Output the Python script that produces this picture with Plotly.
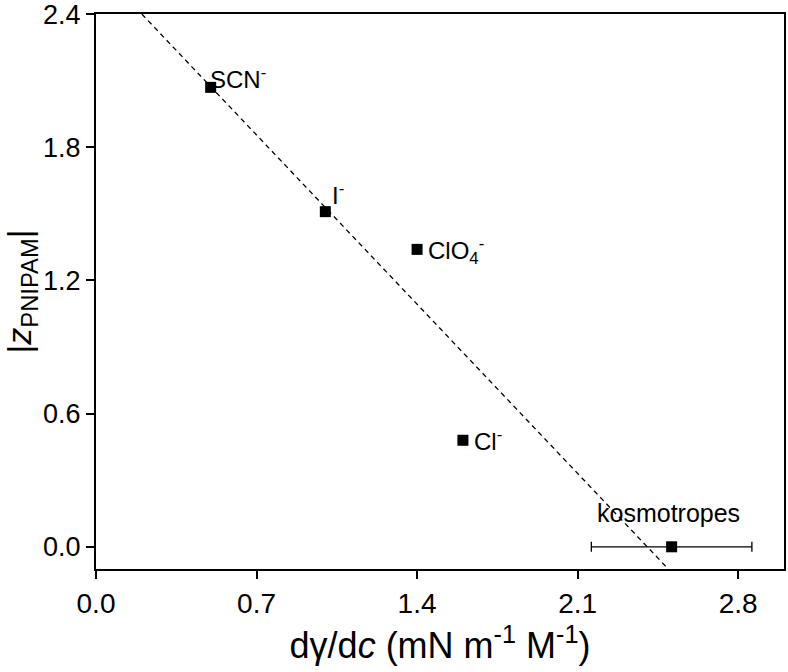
import plotly.graph_objects as go

# Data
ions = ["SCN<sup>-</sup>", "I<sup>-</sup>", "ClO<sub>4</sub><sup>-</sup>", "Cl<sup>-</sup>", "kosmotropes"]
dgamma_dc = [0.50, 1.00, 1.40, 1.60, 2.51]
z_pnipam = [2.07, 1.51, 1.34, 0.48, 0.00]
x_err = [0, 0, 0, 0, 0.35]

# Linear fit line endpoints
fit_x = [0.20, 2.50]
fit_y = [2.40, -0.105]

x_ticks = [0.0, 0.7, 1.4, 2.1, 2.8]
y_ticks = [0.0, 0.6, 1.2, 1.8, 2.4]

# label offsets (pixels) for each annotation
label_dx = [-3, 5, 9, 9, -3]
label_dy = [9, 18, -2, 0, 34]
label_anchor = ["left", "left", "left", "left", "center"]
label_size = [24, 24, 24, 24, 25]

FONT = "Liberation Sans, Arial, sans-serif"

fig = go.Figure()

fig.add_trace(go.Scatter(
    x=fit_x, y=fit_y, mode="lines",
    line=dict(color="black", width=1.3, dash="5px,4px"),
    hoverinfo="skip", showlegend=False,
))

fig.add_trace(go.Scatter(
    x=dgamma_dc, y=z_pnipam, mode="markers",
    marker=dict(symbol="square", size=11, color="black"),
    error_x=dict(type="data", array=x_err, visible=True, color="black",
                 thickness=1.3, width=5),
    showlegend=False,
))

for name, xv, yv, dx, dy, anc, fs in zip(ions, dgamma_dc, z_pnipam, label_dx, label_dy, label_anchor, label_size):
    fig.add_annotation(
        x=xv, y=yv, text=name, showarrow=False,
        xanchor=anc, yanchor="middle", xshift=dx, yshift=dy,
        font=dict(family=FONT, size=fs, color="black"),
    )

axis_common = dict(
    showgrid=False, zeroline=False, automargin=False,
    showline=True, linecolor="black", linewidth=2, mirror=True,
    ticks="outside", ticklen=8, tickwidth=1.5, tickcolor="black",
    ticklabeloverflow="allow",
)

fig.update_xaxes(
    range=[0, 3.0], tickvals=x_ticks, tickformat=".1f",
    tickfont=dict(family=FONT, size=28, color="black"),
    title=dict(text="dγ/d<i>c</i> (mN m<sup>-1</sup> M<sup>-1</sup>)",
               font=dict(family=FONT, size=36, color="black")),
    **axis_common,
)
fig.update_yaxes(
    range=[-0.1, 2.4005], tickvals=y_ticks, tickformat=".1f",
    tickfont=dict(family=FONT, size=27, color="black"),
    title=dict(text="|<i>z</i><sub>PNIPAM</sub>|",
               font=dict(family=FONT, size=34, color="black")),
    **axis_common,
)

fig.update_layout(
    width=788, height=672,
    margin=dict(l=96, r=4, t=14, b=103),
    plot_bgcolor="white", paper_bgcolor="white",
)

fig.write_html("out.html", config={"displayModeBar": False},
               post_script="document.body.style.margin='0px';")
